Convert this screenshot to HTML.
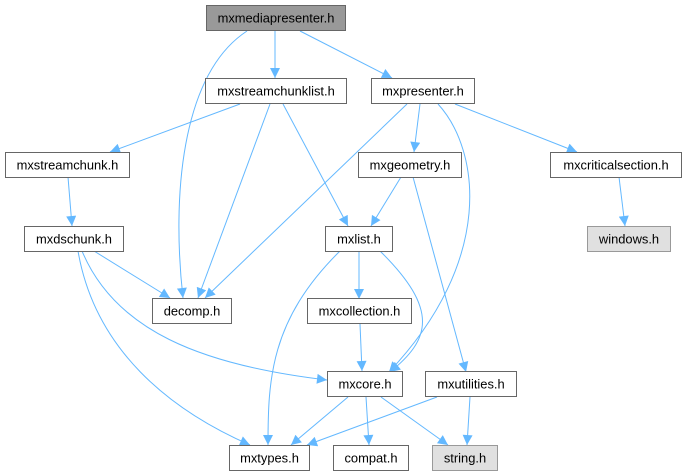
<!DOCTYPE html>
<html><head><meta charset="utf-8"><style>
html,body{margin:0;padding:0;background:#fff;}
svg{display:block;}
text{font-family:"Liberation Sans",Arial,sans-serif;font-size:12.9px;fill:#000;}
</style></head><body>
<svg width="684" height="476" viewBox="0 0 684 476" xmlns="http://www.w3.org/2000/svg">
<defs>
<marker id="a" viewBox="0 0 10 10" refX="10" refY="5" markerWidth="11" markerHeight="10" markerUnits="userSpaceOnUse" orient="auto">
<path d="M0,0 L10,5 L0,10 z" fill="#63b8ff"/>
</marker>
</defs>
<g fill="none" stroke="#63b8ff" stroke-width="1" marker-end="url(#a)">
<path d="M247,31 C180,75 172,200 183,298"/>
<path d="M275,31 L275,78"/>
<path d="M300,31 L392,78"/>
<path d="M240,104 L110,152"/>
<path d="M270,104 L198,298"/>
<path d="M283,104 L348,226"/>
<path d="M407,104 L205,298"/>
<path d="M420,104 L414,152"/>
<path d="M438,104 C480,150 495,260 389,372"/>
<path d="M455,104 L577,152"/>
<path d="M68,177 L72,226"/>
<path d="M401,177 L371,226"/>
<path d="M413,177 L466,372"/>
<path d="M619,177 L625,226"/>
<path d="M94,251 L170,298"/>
<path d="M82,251 C115,330 200,365 327,380"/>
<path d="M78,251 C95,350 170,410 250,445"/>
<path d="M340,251 C270,320 268,380 268,445"/>
<path d="M359,251 L359,299"/>
<path d="M380,251 C440,310 430,340 390,372"/>
<path d="M360,324 L362,371"/>
<path d="M348,397 L291,445"/>
<path d="M366,397 L369,445"/>
<path d="M381,397 L448,445"/>
<path d="M437,397 L307,445"/>
<path d="M470,397 L467,445"/>
</g>
<g stroke="#666" stroke-width="1">
<rect x="206.5" y="5.5" width="139" height="25" fill="#999"/>
<rect x="205.5" y="78.5" width="141" height="25" fill="#fff"/>
<rect x="371.5" y="78.5" width="103" height="25" fill="#fff"/>
<rect x="5.5" y="152.5" width="124" height="25" fill="#fff"/>
<rect x="358.5" y="152.5" width="103" height="25" fill="#fff"/>
<rect x="550.5" y="152.5" width="131" height="25" fill="#fff"/>
<rect x="24.5" y="226.5" width="99" height="25" fill="#fff"/>
<rect x="325.5" y="226.5" width="67" height="25" fill="#fff"/>
<rect x="587.5" y="226.5" width="83" height="25" fill="#e0e0e0" stroke="#999"/>
<rect x="152.5" y="298.5" width="79" height="25" fill="#fff"/>
<rect x="307.5" y="298.5" width="104" height="25" fill="#fff"/>
<rect x="327.5" y="371.5" width="75" height="25" fill="#fff"/>
<rect x="425.5" y="371.5" width="91" height="25" fill="#fff"/>
<rect x="229.5" y="445.5" width="80" height="25" fill="#fff"/>
<rect x="333.5" y="445.5" width="75" height="25" fill="#fff"/>
<rect x="432.5" y="445.5" width="65" height="25" fill="#e0e0e0" stroke="#999"/>
</g>
<g text-anchor="middle">
<text x="276" y="22.5">mxmediapresenter.h</text>
<text x="276" y="95.5">mxstreamchunklist.h</text>
<text x="423" y="95.5">mxpresenter.h</text>
<text x="67.5" y="169.5">mxstreamchunk.h</text>
<text x="410" y="169.5">mxgeometry.h</text>
<text x="616" y="169.5">mxcriticalsection.h</text>
<text x="74" y="243.5">mxdschunk.h</text>
<text x="359" y="243.5">mxlist.h</text>
<text x="629" y="243.5">windows.h</text>
<text x="192" y="315.5">decomp.h</text>
<text x="359.5" y="315.5">mxcollection.h</text>
<text x="365" y="388.5">mxcore.h</text>
<text x="471" y="388.5">mxutilities.h</text>
<text x="269.5" y="462.5">mxtypes.h</text>
<text x="371" y="462.5">compat.h</text>
<text x="465" y="462.5">string.h</text>
</g>
</svg>
</body></html>
